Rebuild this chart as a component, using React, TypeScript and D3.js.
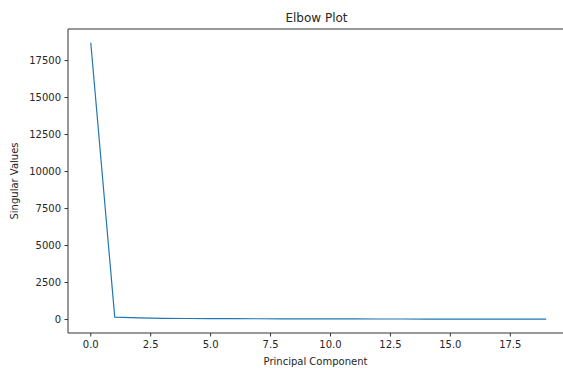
import React from 'react';
import * as d3 from 'd3';

// singular values per principal component
const components = [0, 1, 2, 3, 4, 5, 6, 7, 8, 9, 10, 11, 12, 13, 14, 15, 16, 17, 18, 19];
const singularValues = [18700, 165, 110, 80, 70, 62, 56, 52, 48, 45, 42, 40, 38, 36, 34, 32, 30, 28, 26, 24];
const xTicks = [0, 2.5, 5, 7.5, 10, 12.5, 15, 17.5];
const yTicks = [0, 2500, 5000, 7500, 10000, 12500, 15000, 17500];

const W = 563;
const H = 368;
const margin = { top: 29, right: -6, bottom: 35, left: 68 };

const App = () => {
    const innerW = W - margin.left - margin.right;
    const innerH = H - margin.top - margin.bottom;

    // matplotlib style 5% padding
    const xMin = d3.min(components)!, xMax = d3.max(components)!;
    const yMin = d3.min(singularValues)!, yMax = d3.max(singularValues)!;
    const xPad = (xMax - xMin) * 0.05;
    const yPad = (yMax - yMin) * 0.05;

    const x = d3.scaleLinear().domain([xMin - xPad, xMax + xPad]).range([0, innerW]);
    const y = d3.scaleLinear().domain([yMin - yPad, yMax + yPad]).range([innerH, 0]);

    const line = d3.line<number>()
        .x((d, i) => x(components[i]))
        .y(d => y(d));

    const font = 'DejaVu Sans, sans-serif';
    const fmt = d3.format('.1f');

    return (
        <div style={{ position: 'fixed', left: 0, top: 0 }}>
            <svg width={W} height={H} style={{ display: 'block', background: '#fff' }}>
                <g transform={`translate(${margin.left},${margin.top})`} fontFamily={font}>
                    <path d={line(singularValues) || ''} fill="none" stroke="#1f77b4" strokeWidth={1.2} />

                    {/* spines */}
                    <line x1={0} x2={0} y1={0} y2={innerH} stroke="#333" strokeWidth={1} />
                    <line x1={0} x2={innerW} y1={innerH} y2={innerH} stroke="#333" strokeWidth={1} />
                    <line x1={0} x2={innerW} y1={0} y2={0} stroke="#333" strokeWidth={1} />
                    <line x1={innerW} x2={innerW} y1={0} y2={innerH} stroke="#333" strokeWidth={1} />

                    {/* x axis */}
                    {xTicks.map(t => (
                        <g key={t} transform={`translate(${x(t)},${innerH})`}>
                            <line y2={3.5} stroke="#333" />
                            <text y={15} textAnchor="middle" fontSize={10} fill="#262626">{fmt(t)}</text>
                        </g>
                    ))}

                    {/* y axis */}
                    {yTicks.map(t => (
                        <g key={t} transform={`translate(0,${y(t)})`}>
                            <line x2={-3.5} stroke="#333" />
                            <text x={-7} dy="0.35em" textAnchor="end" fontSize={10} fill="#262626">{t}</text>
                        </g>
                    ))}

                    <text x={(innerW) / 2 - 3} y={innerH + 32} textAnchor="middle" fontSize={10} fill="#262626">
                        Principal Component
                    </text>
                    <text transform={`translate(${-50},${innerH / 2}) rotate(-90)`} textAnchor="middle" fontSize={10} fill="#262626">
                        Singular Values
                    </text>
                    <text x={innerW / 2 - 2} y={-7} textAnchor="middle" fontSize={12} fill="#262626">
                        Elbow Plot
                    </text>
                </g>
            </svg>
        </div>
    );
};

export default App;
